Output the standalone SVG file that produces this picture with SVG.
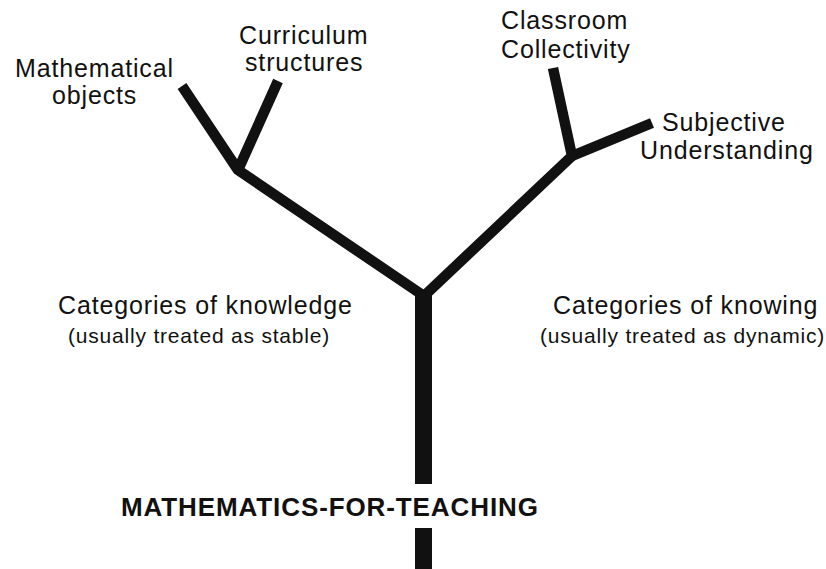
<svg xmlns="http://www.w3.org/2000/svg" width="826" height="569" viewBox="0 0 826 569">
<style>
text{font-family:"Liberation Sans",Arial,Helvetica,sans-serif;fill:#111;}
.lbl{font-size:25px;letter-spacing:0.85px;}
.sub{font-size:21px;letter-spacing:0.8px;}
.title{font-size:26px;font-weight:bold;letter-spacing:0.9px;}
.br{fill:none;stroke:#111;stroke-width:10.5;stroke-linecap:butt;stroke-linejoin:round;}
.trunk{fill:none;stroke:#111;stroke-width:17;stroke-linecap:butt;}
</style>
<rect width="826" height="569" fill="#fff"/>
<g id="connectors">
<polyline class="br" points="182,86 238,170 424,296"/>
<line class="br" x1="278" y1="81" x2="238" y2="170"/>
<polyline class="br" points="553,68 572,156 424,296"/>
<line class="br" x1="652" y1="123" x2="572" y2="156"/>
<line class="trunk" x1="423.5" y1="290" x2="423.5" y2="484"/>
<line class="trunk" x1="423.5" y1="528" x2="423.5" y2="569"/>
</g>
<g id="mathematical-objects">
<text class="lbl" x="15" y="77">Mathematical</text>
<text class="lbl" x="52" y="104">objects</text>
</g>
<g id="curriculum-structures">
<text class="lbl" x="239" y="44">Curriculum</text>
<text class="lbl" x="245" y="71">structures</text>
</g>
<g id="classroom-collectivity">
<text class="lbl" x="501" y="29">Classroom</text>
<text class="lbl" x="501" y="58">Collectivity</text>
</g>
<g id="subjective-understanding">
<text class="lbl" x="662" y="131">Subjective</text>
<text class="lbl" x="640" y="159">Understanding</text>
</g>
<g id="categories-knowledge">
<text class="lbl" x="58" y="314">Categories of knowledge</text>
<text class="sub" x="68" y="343">(usually treated as stable)</text>
</g>
<g id="categories-knowing">
<text class="lbl" x="553" y="314">Categories of knowing</text>
<text class="sub" x="540" y="343">(usually treated as dynamic)</text>
</g>
<g id="mathematics-for-teaching">
<text class="title" x="121" y="516">MATHEMATICS-FOR-TEACHING</text>
</g>
</svg>
